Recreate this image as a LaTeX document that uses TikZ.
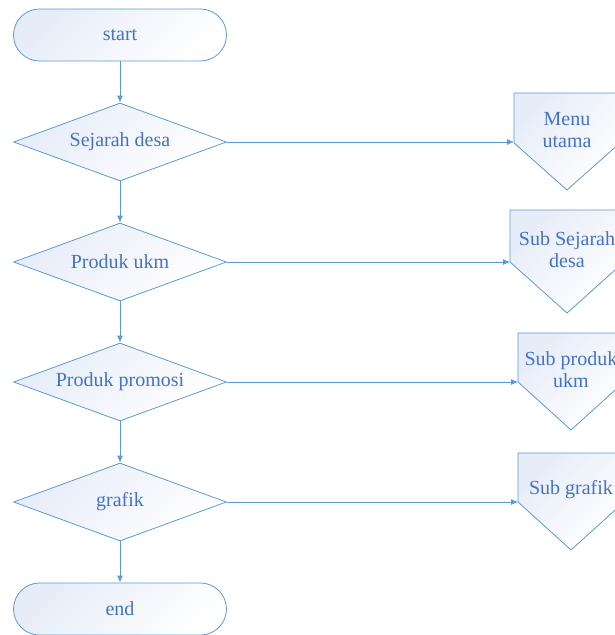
\documentclass[tikz,border=0pt]{standalone}
\usepackage{fontspec}
\setmainfont{Liberation Serif}
\usepackage{tikz}
\usetikzlibrary{shapes.geometric}
\usetikzlibrary{arrows.meta}
\definecolor{garis}{RGB}{91,155,213}
\definecolor{isi}{RGB}{230,236,248}
\definecolor{teks}{RGB}{68,114,196}
\tikzstyle{warna} = [draw=garis, line width=0.8pt, top color=isi, bottom color=white, shading angle=45, text=teks, font=\fontsize{20}{22}\selectfont]
\tikzstyle{term} = [warna, rectangle, rounded corners=26pt, minimum width=213pt, minimum height=52pt]
\tikzstyle{keputusan} = [warna, diamond, aspect=2.73, minimum width=213pt, minimum height=78pt, inner sep=0pt]
\tikzstyle{halaman} = [warna, line join=miter]
\tikzstyle{teksHal} = [text=teks, font=\fontsize{20}{22}\selectfont, align=center, inner sep=0pt]
\tikzstyle{panah} = [draw=garis, line width=0.8pt, -{Latex[length=7pt,width=6pt]}]

\begin{document}
\begin{tikzpicture}[x=1pt, y=-1pt]
	\useasboundingbox (0,0) rectangle (615,635);
	%\draw[help lines,step=50] (0,0) grid (615,635);

	% alur utama
	\node [term] (start) at (120,35) {start};
	\node [keputusan] (sejarah) at (120,142) {Sejarah desa};
	\node [keputusan] (produk) at (120,262) {Produk ukm};
	\node [keputusan] (promosi) at (120,382) {Produk promosi};
	\node [keputusan] (grafik) at (120,502) {grafik};
	\node [term] (end) at (120,609) {end};

	% penghubung halaman
	\path [halaman] (514,93) -- (620,93) -- (620,143) -- (567,190) -- (514,143) -- cycle;
	\path [halaman] (510,210) -- (624,210) -- (624,262) -- (567,313) -- (510,262) -- cycle;
	\path [halaman] (518,333) -- (624,333) -- (624,382) -- (571,430) -- (518,382) -- cycle;
	\path [halaman] (518,453) -- (624,453) -- (624,502) -- (571,550) -- (518,502) -- cycle;
	\coordinate (menuIn) at (514,142);
	\coordinate (subSejarahIn) at (510,262);
	\coordinate (subProdukIn) at (518,382);
	\coordinate (subGrafikIn) at (518,502);
	\node [teksHal] (menu) at (567,130) {Menu\\utama};
	\node [teksHal] (subSejarah) at (567,250) {Sub Sejarah\\desa};
	\node [teksHal] (subProduk) at (571,370) {Sub produk\\ukm};
	\node [teksHal] (subGrafik) at (571,490) {Sub grafik};

	% panah
	\draw [panah] (start) -- (sejarah);
	\draw [panah] (sejarah) -- (produk);
	\draw [panah] (produk) -- (promosi);
	\draw [panah] (promosi) -- (grafik);
	\draw [panah] (grafik) -- (end);
	\draw [panah] (sejarah.east) -- (menuIn);
	\draw [panah] (produk.east) -- (subSejarahIn);
	\draw [panah] (promosi.east) -- (subProdukIn);
	\draw [panah] (grafik.east) -- (subGrafikIn);
\end{tikzpicture}
\end{document}
